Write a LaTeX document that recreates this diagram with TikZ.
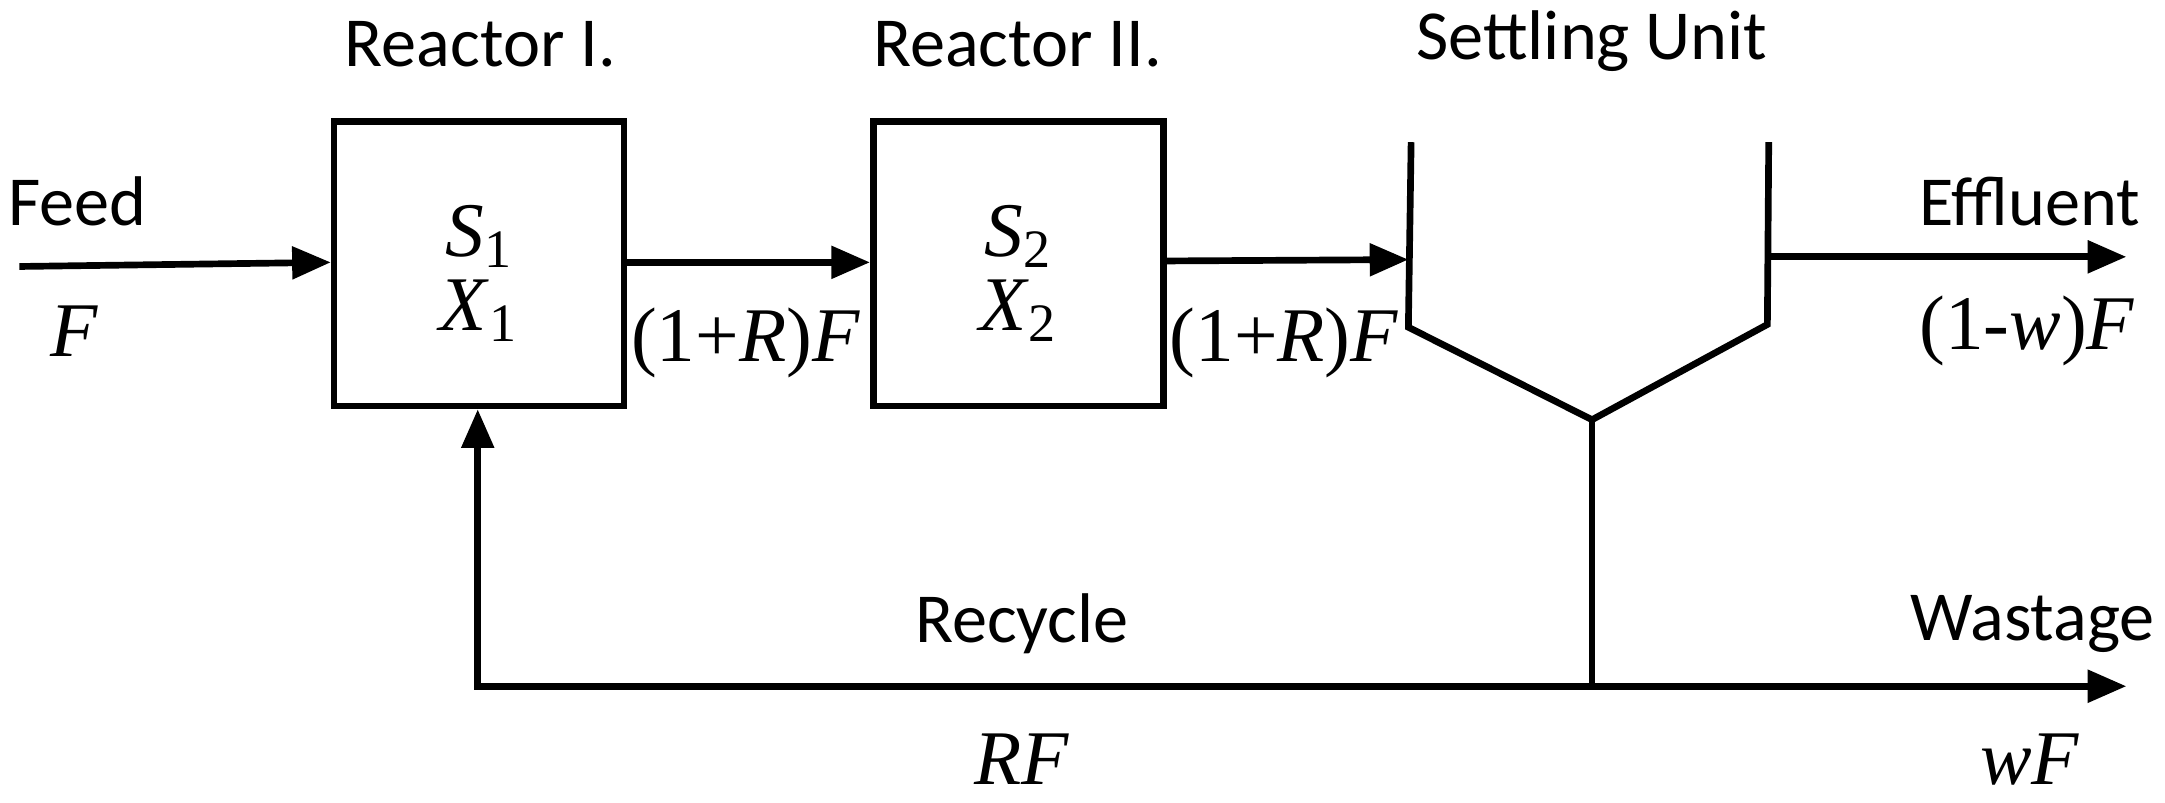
\documentclass[tikz,border=0pt]{standalone}
\usepackage{fontspec}
\setmainfont{Carlito}
\newfontfamily\serifm{Liberation Serif}
\usetikzlibrary{arrows.meta}
\begin{document}
\begin{tikzpicture}[x=0.01381cm,y=-0.01381cm,
  line/.style={line width=1.9pt},
  arr/.style={line width=1.9pt,-{Triangle[length=11pt,width=9pt]}},
  box/.style={draw,line width=1.9pt,minimum width=2.9cm,minimum height=2.845cm,inner sep=0pt},
  lab/.style={font=\fontsize{20}{22}\selectfont},
  mlab/.style={font=\serifm\fontsize{22}{24}\selectfont}]
\useasboundingbox (0,0) rectangle (1568,581);
\node[box] (r1) at (347,191) {};
\node[box] (r2) at (737.5,191) {};
\node[mlab,align=center] (t1) at (347,198) {\textit{S}\textsubscript{1}\\[-3pt]\textit{X}\textsubscript{1}};
\node[mlab,align=center] (t2) at (737.5,198) {\textit{S}\textsubscript{2}\\[-3pt]\textit{X}\textsubscript{2}};
\coordinate (feedin) at (14,193);
\coordinate (sl) at (1020,188);
\coordinate (sr) at (1281,186);
\coordinate (eff) at (1540,186);
\coordinate (sb) at (1153,304);
\coordinate (jn) at (1153,497);
\coordinate (rc) at (346,497);
\coordinate (wst) at (1540,497);
\draw[arr] (feedin) -- (r1.west |- 0,190);
\draw[arr] (r1.east |- 0,190) -- (r2.west |- 0,190);
\draw[arr] (r2.east |- 0,189) -- (sl);
\draw[line,line join=miter] (1022,103) -- (1020,237) -- (sb) -- (1280,235) -- (1281,103);
\draw[arr] (sr) -- (eff);
\draw[line] (sb) -- (jn);
\draw[arr] (jn) -- (wst);
\draw[arr] (jn) -- (rc) -- (r1.south -| rc);
\node[lab] (n1) at (348,32) {Reactor I.};
\node[lab] (n2) at (737,32) {Reactor II.};
\node[lab] (n3) at (1153,30) {Settling Unit};
\node[lab] (n4) at (56,146) {Feed};
\node[lab] (n5) at (1470,146) {Effluent};
\node[lab] (n6) at (740,452) {Recycle};
\node[lab] (n7) at (1472,452) {Wastage};
\node[mlab] (m1) at (54,240) {\textit{F}};
\node[mlab] (m2) at (1468,240) {(1-\textit{w})\textit{F}};
\node[mlab] (m3) at (540,248) {(1+\textit{R})\textit{F}};
\node[mlab] (m4) at (930,248) {(1+\textit{R})\textit{F}};
\node[mlab] (m5) at (740,550) {\textit{RF}};
\node[mlab] (m6) at (1470,550) {\textit{wF}};
\end{tikzpicture}
\end{document}
